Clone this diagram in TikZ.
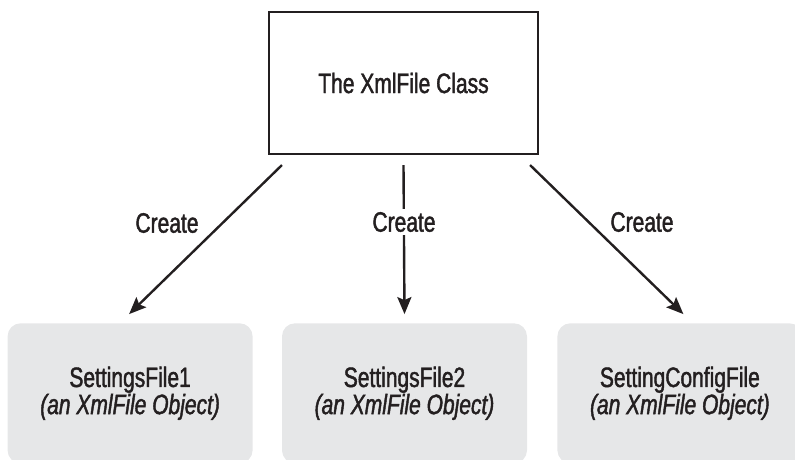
\documentclass[tikz,border=0pt]{standalone}
\usepackage{fontspec}
\setmainfont{Liberation Sans}[FakeStretch=0.75,FakeBold=1.5]
\usetikzlibrary{positioning,arrows.meta}
\definecolor{objgray}{RGB}{230,231,232}
\definecolor{inkblack}{RGB}{35,31,32}

\begin{document}
\begin{tikzpicture}[x=1pt,y=-1pt,
    every node/.style={text=inkblack,font=\fontsize{28}{22}\selectfont},
    classbox/.style={draw=inkblack,line width=2.2pt,minimum width=269pt,minimum height=142pt,inner sep=0pt},
    objbox/.style={fill=objgray,rounded corners=13pt,minimum width=245pt,minimum height=140pt,inner sep=0pt,align=center},
    create/.style={draw=inkblack,line width=2.4pt,-{Stealth[length=17pt,width=14pt,inset=3pt]}}]
  \clip (0,0) rectangle (795,459);
  \useasboundingbox (0,0) rectangle (795,459);
   \node[classbox] (cls) at (403.5,83) {The XmlFile Class};
    \node[objbox,below=168pt of cls,xshift=1pt] (f2) {SettingsFile2\\\textit{(an XmlFile Object)}};
    \node[objbox,left=29pt of f2] (f1) {SettingsFile1\\\textit{(an XmlFile Object)}};
    \node[objbox,right=30pt of f2] (f3) {SettingConfigFile\\\textit{(an XmlFile Object)}};
  % start points below the class box
  \coordinate (s1) at ([xshift=14pt,yshift=-10pt]cls.south west);
  \coordinate (s2) at ([yshift=-10pt]cls.south);
  \coordinate (s3) at ([xshift=-9pt,yshift=-10pt]cls.south east);
  \draw[create] (s1) -- ([xshift=-1pt,yshift=9pt]f1.north);
  \draw[create] (s2) -- ([yshift=9pt]f2.north);
  \draw[create] (s3) -- ([xshift=3.5pt,yshift=9pt]f3.north);
   \node (c1) at (167,223) {Create};
   \node[fill=white,inner ysep=3pt] (c2) at (404,222) {Create};
   \node (c3) at (642,222) {Create};
\end{tikzpicture}
\end{document}
